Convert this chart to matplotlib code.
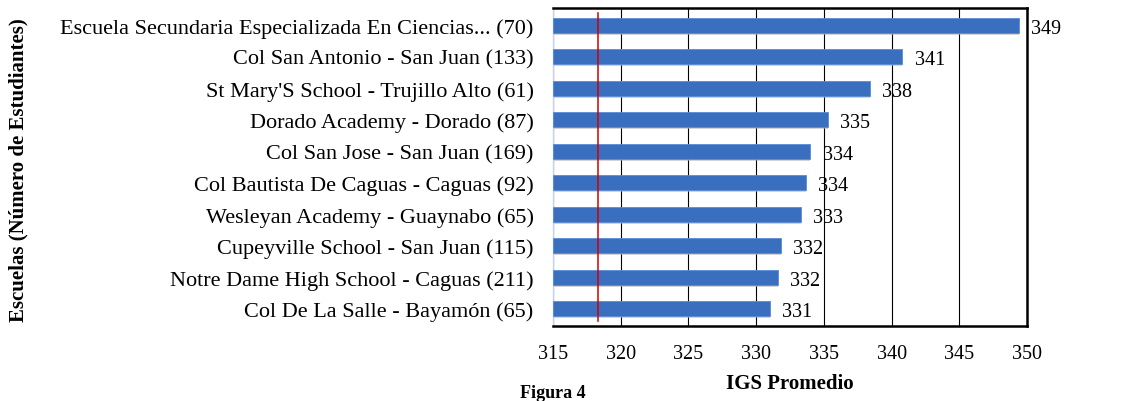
import matplotlib
matplotlib.use("Agg")
import matplotlib.pyplot as plt

escuelas = [
    "Escuela Secundaria Especializada En Ciencias... (70)",
    "Col San Antonio - San Juan (133)",
    "St Mary'S School - Trujillo Alto (61)",
    "Dorado Academy - Dorado (87)",
    "Col San Jose - San Juan (169)",
    "Col Bautista De Caguas - Caguas (92)",
    "Wesleyan Academy - Guaynabo (65)",
    "Cupeyville School - San Juan (115)",
    "Notre Dame High School - Caguas (211)",
    "Col De La Salle - Bayamón (65)",
]
igs = [349.4, 340.8, 338.4, 335.3, 334.0, 333.7, 333.3, 331.8, 331.6, 331.0]
etiquetas = ["349", "341", "338", "335", "334", "334", "333", "332", "332", "331"]
referencia = 318.3
ticks_x = [315, 320, 325, 330, 335, 340, 345, 350]

plt.rcParams['font.family'] = ['Liberation Serif', 'DejaVu Serif']

fig = plt.figure(figsize=(11.3, 4.02), dpi=100)
ax = fig.add_axes([553 / 1130, 1 - 327 / 402, (1027 - 553) / 1130, (327 - 9) / 402])

pos = list(range(len(escuelas)))[::-1]
# sombra
ax.barh([p - 0.07 for p in pos], [v - 315 for v in igs], left=315, height=0.47,
        color='#b0b0b0', alpha=0.55, zorder=2)
ax.barh(pos, [v - 315 for v in igs], left=315, height=0.47,
        color='#3a6fc0', edgecolor='#5b8ad6', linewidth=0.6, zorder=3)

for p, v, t in zip(pos, igs, etiquetas):
    ax.text(v + 0.9, p - 0.1, t, va='center', ha='left', fontsize=14.5, zorder=4)

ax.axvline(referencia, color='#d00000', linewidth=1.1, ymax=0.985, ymin=0.015, zorder=4)

ax.set_xlim(315, 350)
ax.set_ylim(-0.55, 9.55)
ax.set_xticks(ticks_x)
ax.set_yticks(pos)
ax.set_yticklabels(escuelas, fontsize=16)
ax.grid(axis='x', color='black', linewidth=0.8, zorder=1)
ax.tick_params(axis='both', length=0)
ax.tick_params(axis='x', labelsize=14.5, pad=13)
ax.tick_params(axis='y', pad=14)

for s in ['top', 'right', 'bottom']:
    ax.spines[s].set_color('black')
    ax.spines[s].set_linewidth(1.8)
ax.spines['left'].set_color('#c5d3e8')
ax.spines['left'].set_linewidth(1.0)

fig.text(790 / 1130, 1 - 384 / 402, 'IGS Promedio', ha='center', va='center',
         fontsize=15, fontweight='bold')
fig.text(18 / 1130, 1 - 170 / 402, 'Escuelas (Número de Estudiantes)', rotation=90,
         ha='center', va='center', fontsize=15, fontweight='bold')
fig.text(553 / 1130, 0.0, 'Figura 4', ha='center', va='bottom',
         fontsize=13, fontweight='bold')

fig.savefig('out.png', dpi=100)
